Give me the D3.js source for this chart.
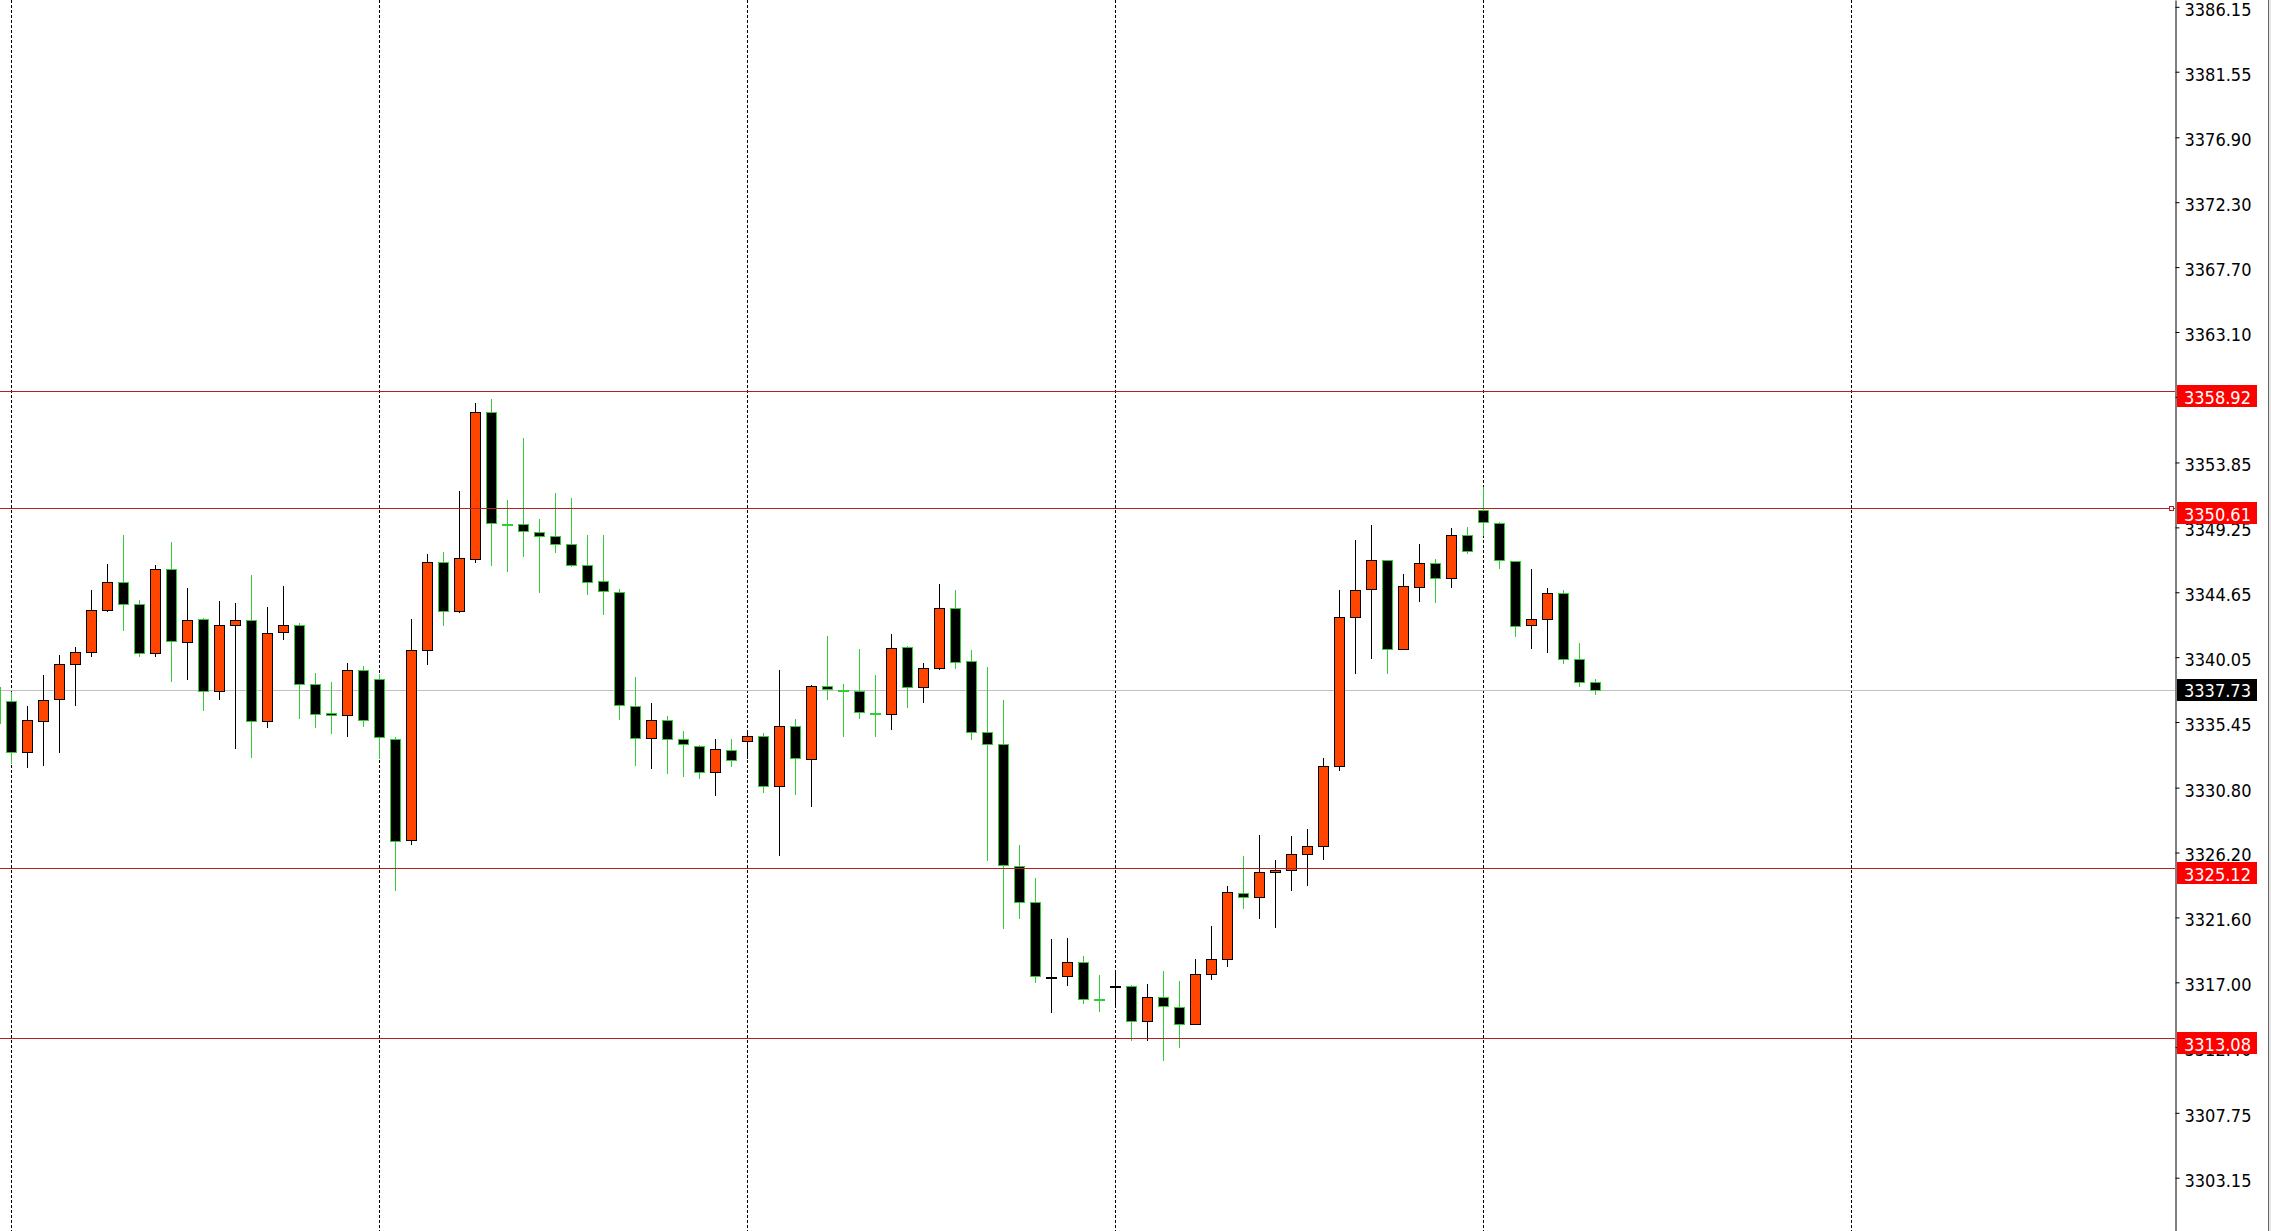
<!DOCTYPE html>
<html><head><meta charset="utf-8">
<script src="https://cdn.jsdelivr.net/npm/d3@7"></script>
<style>html,body{margin:0;padding:0;background:#fff;overflow:hidden}</style>
</head><body>
<svg id="c" width="2271" height="1231"></svg>
<script>
// ---- data (bar index of first entry is -1: partially visible bar at left edge) ----
const firstIndex = -1;
const openVals = [3337.95,
 3336.97,3333.30,3335.50,3337.06,3339.54,3340.39,3343.37,3345.35,3343.79,3340.32,
 3346.27,3341.15,3342.73,3337.63,3342.31,3342.66,3335.50,3341.81,3342.31,3338.12,
 3336.07,3335.93,3339.12,3338.48,3334.27,3327.06,3340.53,3346.77,3343.30,3346.98,
 3357.40,3349.47,3349.46,3348.94,3348.61,3348.05,3346.56,3345.42,3344.64,3336.61,
 3334.30,3335.57,3334.27,3333.78,3331.89,3333.49,3334.08,3334.44,3330.89,3335.15,
 3332.81,3337.98,3337.75,3337.63,3336.12,3336.00,3340.75,3337.91,3339.26,3343.51,
 3339.75,3334.72,3333.87,3325.27,3322.67,3317.38,3317.42,3318.42,3315.83,3316.74,
 3316.76,3314.23,3315.94,3315.23,3314.02,3317.57,3318.63,3323.35,3323.02,3324.80,
 3324.94,3326.07,3326.64,3332.31,3342.87,3344.86,3346.91,3340.60,3345.05,3346.70,
 3345.64,3348.69,3350.46,3349.58,3346.84,3342.31,3342.73,3344.57,3339.90,3338.26];
const highVals = [3338.30,
 3337.60,3336.59,3338.78,3340.20,3340.79,3344.81,3346.65,3348.71,3344.10,3346.58,
 3348.19,3344.95,3342.80,3344.03,3343.89,3345.87,3343.61,3345.09,3342.45,3338.90,
 3338.26,3339.64,3339.42,3338.83,3334.39,3342.75,3347.36,3347.50,3351.85,3358.07,
 3358.35,3351.19,3355.58,3349.84,3351.66,3351.33,3348.71,3348.71,3344.86,3338.64,
 3336.80,3335.85,3334.82,3333.85,3334.25,3334.25,3334.77,3334.70,3339.14,3335.67,
 3338.10,3341.55,3338.12,3340.63,3338.78,3341.69,3340.86,3339.64,3345.24,3344.81,
 3340.56,3339.35,3337.01,3326.73,3324.39,3320.07,3320.14,3318.87,3317.52,3317.73,
 3316.81,3316.88,3317.80,3317.09,3318.65,3320.99,3323.80,3325.95,3327.44,3325.67,
 3327.37,3327.87,3332.88,3344.81,3348.35,3349.42,3346.95,3345.92,3348.07,3347.03,
 3349.18,3349.28,3352.13,3349.62,3346.89,3346.27,3344.95,3344.81,3341.03,3338.50];
const lowVals = [3334.80,
 3332.45,3332.17,3332.36,3333.28,3336.61,3340.08,3343.27,3341.93,3340.08,3340.08,
 3338.31,3338.45,3336.26,3337.01,3333.56,3332.92,3335.05,3341.29,3335.69,3335.05,
 3334.63,3334.41,3335.12,3332.85,3323.50,3326.76,3339.49,3342.28,3343.20,3346.75,
 3346.53,3346.11,3347.17,3344.57,3347.46,3346.46,3344.48,3343.06,3335.62,3332.36,
 3332.15,3331.74,3331.58,3331.44,3330.18,3332.29,3332.85,3330.44,3325.98,3330.30,
 3329.45,3337.01,3334.41,3335.69,3334.41,3334.89,3336.45,3336.82,3339.16,3339.23,
 3334.18,3325.60,3320.80,3321.51,3316.97,3314.85,3316.76,3315.49,3314.92,3315.39,
 3312.86,3312.86,3311.45,3312.37,3314.02,3317.19,3318.11,3322.22,3321.51,3320.87,
 3323.50,3323.85,3325.69,3332.00,3338.88,3339.94,3338.88,3340.60,3343.98,3343.91,
 3344.98,3347.34,3348.66,3346.32,3341.45,3340.65,3340.37,3339.59,3337.96,3337.34];
const closeVals = [3335.36,
 3333.33,3335.57,3336.99,3339.54,3340.39,3343.37,3345.35,3343.79,3340.32,3346.27,
 3341.19,3342.66,3337.63,3342.31,3342.66,3335.50,3341.74,3342.31,3338.12,3336.00,
 3335.93,3339.12,3335.57,3334.39,3326.99,3340.53,3346.77,3343.32,3347.05,3357.40,
 3349.54,3349.46,3348.99,3348.64,3348.07,3346.56,3345.38,3344.74,3336.66,3334.30,
 3335.57,3334.25,3333.89,3331.89,3333.52,3332.76,3334.44,3330.89,3335.15,3332.90,
 3338.01,3337.79,3337.63,3336.14,3336.11,3340.70,3337.91,3339.26,3343.51,3339.68,
 3334.72,3333.87,3325.29,3322.67,3317.42,3317.39,3318.42,3315.84,3315.82,3316.75,
 3314.26,3315.94,3315.30,3314.02,3317.57,3318.63,3323.38,3323.05,3324.80,3324.96,
 3326.07,3326.64,3332.31,3342.87,3344.81,3346.91,3340.60,3345.07,3346.70,3345.64,
 3348.69,3347.57,3349.61,3346.91,3342.23,3342.73,3344.57,3339.90,3338.26,3337.73];

const levelLines = [3358.92, 3350.61, 3325.12, 3313.08];
const markedLevel = 3350.61;
const currentPrice = 3337.73;
const tickLabels = ["3386.15","3381.55","3376.90","3372.30","3367.70","3363.10","3358.50",
 "3353.85","3349.25","3344.65","3340.05","3335.45","3330.80","3326.20","3321.60",
 "3317.00","3312.40","3307.75","3303.15"];
const gridIndices = [0, 23, 46, 69, 92, 115];

// ---- drawing ----
const W = 2271, H = 1231, axisX = 2175;
const FONT = "'DejaVu Sans Condensed','DejaVu Sans','Liberation Sans',sans-serif";
const BULL = "#ff4500", BEAR_LINE = "#32cd32", LEVEL = "#b22222", LABEL_RED = "#ff0000";

const svg = d3.select('#c');
svg.append('rect').attr('width', W).attr('height', H).attr('fill', '#fff');

const y = d3.scaleLinear().domain([3299.371, 3386.633]).range([H, 0]);
const x = d3.scaleLinear().domain([0, 1]).range([11.5, 27.5]);

const bars = openVals.map((o, k) => ({
  i: firstIndex + k, o, h: highVals[k], l: lowVals[k], c: closeVals[k]
}));

// vertical dotted grid
svg.append('g').selectAll('line').data(gridIndices).join('line')
  .attr('x1', d => x(d)).attr('x2', d => x(d))
  .attr('y1', 0).attr('y2', H)
  .attr('stroke', '#000').attr('stroke-width', 1).attr('stroke-dasharray', '3,2');

// current price line (under candles)
svg.append('line').attr('x1', 0).attr('x2', axisX)
  .attr('y1', Math.round(y(currentPrice)) + 0.5).attr('y2', Math.round(y(currentPrice)) + 0.5)
  .attr('stroke', '#c0c0c0').attr('stroke-width', 1);

// candles
const cg = svg.append('g');
const isBull = d => d.c > d.o;
cg.selectAll('line.wick').data(bars).join('line').attr('class', 'wick')
  .attr('x1', d => x(d.i)).attr('x2', d => x(d.i))
  .attr('y1', d => Math.round(y(d.h))).attr('y2', d => Math.round(y(d.l)))
  .attr('stroke', d => isBull(d) ? '#000' : BEAR_LINE).attr('stroke-width', 1);
cg.selectAll('rect.body').data(bars).join('rect').attr('class', 'body')
  .attr('x', d => x(d.i) - 5).attr('width', 10)
  .attr('y', d => Math.round(y(Math.max(d.o, d.c))) + 0.5)
  .attr('height', d => Math.max(1, Math.round(y(Math.min(d.o, d.c))) - Math.round(y(Math.max(d.o, d.c)))))
  .attr('fill', d => isBull(d) ? BULL : '#000')
  .attr('stroke', d => isBull(d) ? '#000' : BEAR_LINE).attr('stroke-width', 1);

// horizontal level lines (over candles)
svg.append('g').selectAll('line').data(levelLines).join('line')
  .attr('x1', 0).attr('x2', axisX)
  .attr('y1', d => Math.round(y(d)) + 0.5).attr('y2', d => Math.round(y(d)) + 0.5)
  .attr('stroke', LEVEL).attr('stroke-width', 1);

// right price axis
const axis = d3.axisRight(y)
  .tickValues(tickLabels.map(Number))
  .tickFormat((d, k) => tickLabels[k])
  .tickSize(4).tickSizeOuter(0).tickPadding(5);
const ag = svg.append('g').attr('transform', `translate(${axisX + 0.5},0)`).call(axis);
ag.select('.domain').attr('stroke', '#000');
ag.selectAll('.tick line').attr('stroke', '#000');
ag.selectAll('.tick text').attr('fill', '#000').attr('font-family', FONT)
  .attr('font-size', 18).attr('dy', '0.47em');

// marker square on the marked level
svg.append('rect').attr('x', axisX - 5.5).attr('y', Math.round(y(markedLevel)) - 1.5)
  .attr('width', 4).attr('height', 4).attr('fill', '#fff').attr('stroke', LEVEL);

// level labels
const lg = svg.append('g').selectAll('g').data(levelLines).join('g');
lg.append('rect').attr('x', axisX + 2).attr('width', 80).attr('height', 22)
  .attr('y', d => Math.round(y(d)) - 6).attr('fill', LABEL_RED);
lg.append('text').attr('x', axisX + 9).attr('y', d => Math.round(y(d)) + 12.5)
  .attr('fill', '#fff').attr('font-family', FONT).attr('font-size', 18)
  .text(d => d.toFixed(2));

// current price label
svg.append('rect').attr('x', axisX + 2).attr('width', 80).attr('height', 22)
  .attr('y', Math.round(y(currentPrice)) - 11).attr('fill', '#000');
svg.append('text').attr('x', axisX + 9).attr('y', Math.round(y(currentPrice)) + 7)
  .attr('fill', '#fff').attr('font-family', FONT).attr('font-size', 18)
  .text(currentPrice.toFixed(2));

// right window border
svg.append('line').attr('x1', 2268.5).attr('x2', 2268.5).attr('y1', 0).attr('y2', H)
  .attr('stroke', '#666');
svg.append('rect').attr('x', 2269).attr('y', 0).attr('width', 2).attr('height', H).attr('fill', '#e6e6e6');
</script>
</body></html>
